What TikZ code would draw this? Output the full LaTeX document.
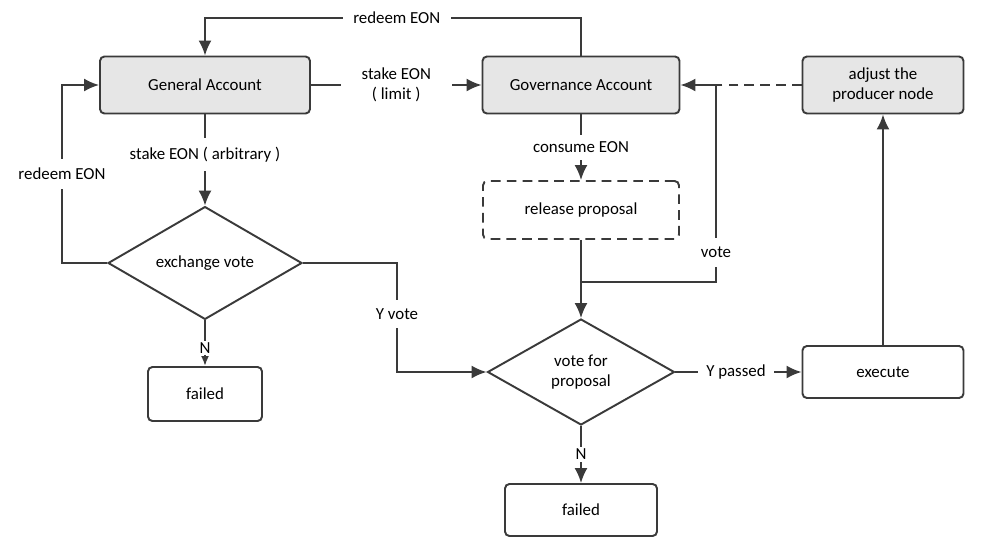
\documentclass[tikz,border=0pt]{standalone}
\usepackage{fontspec}
\setmainfont{Carlito}
\usetikzlibrary{shapes.geometric,arrows.meta}

\tikzset{
  box/.style={draw=lineColor, line width=1.1pt, rounded corners=2.5pt, fill=white,
    inner sep=1pt, align=center, font=\fontsize{9.6}{11.5}\selectfont},
  acct/.style={box, fill=acctColor},
  choice/.style={draw=lineColor, line width=1.1pt, diamond, inner sep=0pt, fill=white,
    align=center, font=\fontsize{9.6}{11.5}\selectfont},
  flow/.style={draw=lineColor, line width=1.1pt, -{Latex[length=3mm,width=2.6mm]}},
  lbl/.style={fill=white, inner sep=3pt, align=center, font=\fontsize{9.6}{11.5}\selectfont},
  dashline/.style={dash pattern=on 5.5pt off 3.5pt}
}

\begin{document}
\begin{tikzpicture}[x=0.02cm, y=-0.02cm]
% Colors
\definecolor{lineColor}{RGB}{58,58,58}
\definecolor{acctColor}{RGB}{230,230,230}
\useasboundingbox (0,0) rectangle (1005,542);
% Boxes
\node[acct, minimum width=4.2cm, minimum height=1.14cm]  (gen) at (205,85)  {General Account};
\node[acct, minimum width=3.94cm, minimum height=1.14cm] (gov) at (581,85)  {Governance Account};
\node[acct, minimum width=3.22cm, minimum height=1.14cm] (adj) at (883,85)  {adjust the\\producer node};
\node[box, dashline, minimum width=3.92cm, minimum height=1.16cm] (rel) at (581,210) {release proposal};
\node[box, minimum width=2.28cm, minimum height=1.08cm]  (failA) at (205,394) {failed};
\node[box, minimum width=3.22cm, minimum height=1.04cm]  (exe) at (883,372) {execute};
\node[box, minimum width=3.04cm, minimum height=1.04cm]  (failB) at (581,510) {failed};
% Decisions
\node[choice, minimum width=3.88cm, minimum height=1.94cm] (ex)   at (205,263) {exchange vote};
\node[choice, minimum width=3.74cm, minimum height=2.12cm] (prop) at (581,372) {vote for\\proposal};
% Bends
\coordinate (topR) at (581,18);
\coordinate (topL) at (205,18);
\coordinate (rdL)  at (62,263);
\coordinate (rdU)  at (62,85);
\coordinate (yvA)  at (397,263);
\coordinate (yvB)  at (397,372);
\coordinate (vj)   at (581,282);
\coordinate (vr)   at (716,282);
\coordinate (vt)   at (716,85);
% Connectors
\draw[flow] (gov.north) -- (topR) -- node[lbl, pos=0.49, inner sep=6pt] {redeem EON} (topL) -- (gen.north);
\draw[flow] (gen.east) -- node[lbl, inner xsep=12pt] {stake EON\\( limit )} (gov.west);
\draw[flow] (gen.south) -- node[lbl, pos=0.44, inner sep=5pt] {stake EON ( arbitrary )} (ex.north);
\draw[flow] (ex.west) -- (rdL) -- node[lbl, inner sep=5pt] {redeem EON} (rdU) -- (gen.west);
\draw[draw=lineColor, line width=1.1pt, -{Latex[length=2mm,width=1.6mm]}]
  (ex.south) -- node[lbl, pos=0.6, inner sep=1pt] {N} (failA.north);
\draw[flow] (ex.east) -- (yvA) -- node[lbl, pos=0.47, inner sep=5pt] {Y vote} (yvB) -- (prop.west);
\draw[flow] (gov.south) -- node[lbl, inner sep=4pt] {consume EON} (rel.north);
\draw[flow] (rel.south) -- (prop.north);
\draw[flow] (vj) -- (vr) -- node[lbl, pos=0.15, inner sep=5pt] {vote} (vt) -- (gov.east);
\draw[draw=lineColor, line width=1.1pt, dashline] (adj.west) -- (vt);
\draw[flow] (prop.east) -- node[lbl, pos=0.48, inner xsep=4.5pt] {Y passed} (exe.west);
\draw[flow] (exe.north) -- (adj.south);
\draw[flow] (prop.south) -- node[lbl, pos=0.5, inner sep=1pt] {N} (failB.north);
\end{tikzpicture}
\end{document}
